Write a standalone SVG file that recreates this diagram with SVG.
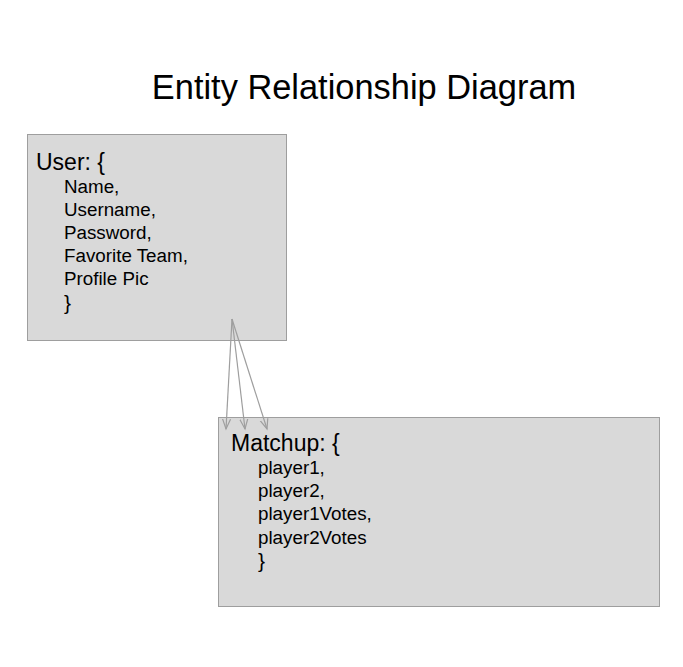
<svg xmlns="http://www.w3.org/2000/svg" width="683" height="667" viewBox="0 0 683 667">
<defs>
<style>
.box{fill:#d9d9d9;stroke:#9e9e9e;stroke-width:1}
.t{font-family:"Liberation Sans",Arial,sans-serif;fill:#000}
.h{font-size:23px}
.f{font-size:18.8px}
.c{fill:none;stroke:#9e9e9e;stroke-width:1.2}
</style>
<marker id="ah" markerWidth="12" markerHeight="12" refX="10" refY="5" orient="auto" markerUnits="userSpaceOnUse" viewBox="0 0 12 12">
<path d="M0,1 L10,5 L0,9" fill="none" stroke="#9e9e9e" stroke-width="1.2"/>
</marker>
</defs>
<rect width="683" height="667" fill="#fff"/>
<text class="t" x="364" y="99" font-size="34.4" text-anchor="middle">Entity Relationship Diagram</text>
<g id="user">
<rect class="box" x="27.5" y="134.5" width="259" height="206"/>
<text class="t h" x="36" y="170">User: {</text>
<text class="t f" x="64" y="193">Name,</text>
<text class="t f" x="64" y="216">Username,</text>
<text class="t f" x="64" y="239">Password,</text>
<text class="t f" x="64" y="262">Favorite Team,</text>
<text class="t f" x="64" y="285">Profile Pic</text>
<text class="t" x="64" y="310" font-size="21">}</text>
</g>
<g id="matchup">
<rect class="box" x="218.5" y="417.5" width="441" height="189"/>
<text class="t h" x="231" y="451">Matchup: {</text>
<text class="t f" x="258" y="474">player1,</text>
<text class="t f" x="258" y="497">player2,</text>
<text class="t f" x="258" y="520">player1Votes,</text>
<text class="t f" x="258" y="544">player2Votes</text>
<text class="t" x="258" y="568" font-size="21">}</text>
</g>
<g id="connectors">
<line class="c" x1="232" y1="319" x2="226" y2="429" marker-end="url(#ah)"/>
<line class="c" x1="232" y1="319" x2="245" y2="429" marker-end="url(#ah)"/>
<line class="c" x1="232" y1="319" x2="267" y2="429" marker-end="url(#ah)"/>
</g>
</svg>
